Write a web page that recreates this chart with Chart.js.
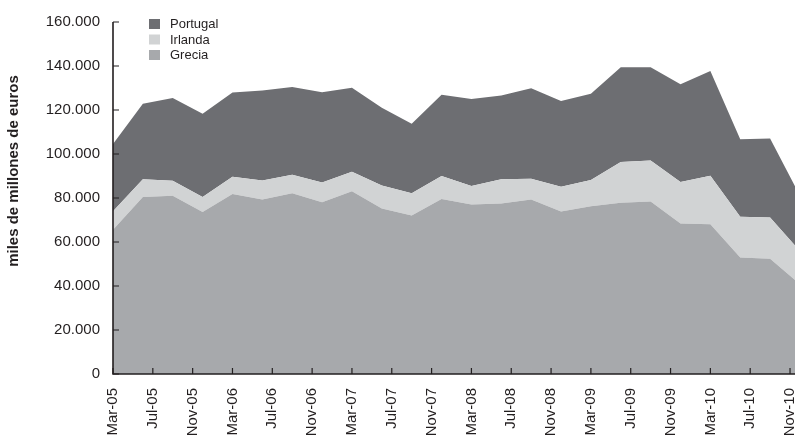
<!DOCTYPE html>
<html>
<head>
<meta charset="utf-8">
<script src="https://cdn.jsdelivr.net/npm/chart.js@4.4.0/dist/chart.umd.min.js"></script>
<style>
  html, body { margin: 0; padding: 0; background: #fff; }
  #wrap { width: 795px; height: 436px; }
</style>
</head>
<body>
<div id="wrap"><canvas id="myChart"></canvas></div>
<script>
// datos trimestrales (millones de euros)
const quarters = ['Mar-05','Jun-05','Sep-05','Dec-05','Mar-06','Jun-06','Sep-06','Dec-06',
  'Mar-07','Jun-07','Sep-07','Dec-07','Mar-08','Jun-08','Sep-08','Dec-08',
  'Mar-09','Jun-09','Sep-09','Dec-09','Mar-10','Jun-10','Sep-10','Dec-10'];

const grecia = [65600, 80400, 81000, 73600, 81800, 79300, 82200, 78100, 83100, 75200, 72100, 79600,
  77000, 77500, 79300, 73900, 76300, 77800, 78400, 68400, 68100, 52900, 52400, 40800];
const irlanda = [8400, 8100, 6800, 6800, 7900, 8700, 8400, 8900, 8800, 10500, 10100, 10400,
  8500, 11000, 9500, 11200, 11900, 18600, 18700, 18900, 22000, 18600, 18700, 15100];
const portugal = [30600, 34300, 37600, 37900, 38300, 40900, 39800, 41100, 38200, 35300, 31600, 36900,
  39500, 38100, 41100, 39000, 39200, 43000, 42300, 44400, 47600, 35200, 36000, 25100];

const tickLabels = ['Mar-05','Jul-05','Nov-05','Mar-06','Jul-06','Nov-06','Mar-07','Jul-07','Nov-07',
  'Mar-08','Jul-08','Nov-08','Mar-09','Jul-09','Nov-09','Mar-10','Jul-10','Nov-10'];

const yTitle = 'miles de millones de euros';
const textColor = '#231f20';

// meses desde Mar-05
const monthNames = ['Jan','Feb','Mar','Apr','May','Jun','Jul','Aug','Sep','Oct','Nov','Dec'];
function monthOffset(lbl) {
  const parts = lbl.split('-');
  return (parseInt(parts[1], 10) - 5) * 12 + monthNames.indexOf(parts[0]) - 2;
}
function toPoints(values) {
  return values.map((v, i) => ({ x: monthOffset(quarters[i]), y: v }));
}
function fmt(v) {
  return v.toString().replace(/\B(?=(\d{3})+(?!\d))/g, '.');
}

const data = {
  datasets: [
    { label: 'Grecia', data: toPoints(grecia), backgroundColor: '#a7a9ac', fill: 'origin' },
    { label: 'Irlanda', data: toPoints(irlanda), backgroundColor: '#d1d3d4', fill: '-1' },
    { label: 'Portugal', data: toPoints(portugal), backgroundColor: '#6d6e72', fill: '-1' }
  ]
};

// ejes, marcas interiores, leyenda y titulo
const extras = {
  id: 'extras',
  afterDatasetsDraw(chart) {
    const ctx = chart.ctx;
    const area = chart.chartArea;
    const xs = chart.scales.x, ys = chart.scales.y;
    ctx.save();
    ctx.strokeStyle = textColor;
    ctx.lineWidth = 1.2;
    ctx.beginPath();
    xs.ticks.forEach(t => {
      const px = xs.getPixelForValue(t.value);
      ctx.moveTo(px, area.bottom);
      ctx.lineTo(px, area.bottom - 6);
    });
    ys.ticks.forEach(t => {
      const py = ys.getPixelForValue(t.value);
      ctx.moveTo(area.left, py);
      ctx.lineTo(area.left + 6, py);
    });
    ctx.stroke();
    ctx.lineWidth = 1.6;
    ctx.beginPath();
    ctx.moveTo(area.left, area.top);
    ctx.lineTo(area.left, area.bottom);
    ctx.lineTo(area.right, area.bottom);
    ctx.stroke();

    // leyenda
    ctx.font = '13px "Liberation Sans", Arial, sans-serif';
    ctx.textBaseline = 'middle';
    ctx.textAlign = 'left';
    const items = chart.data.datasets.slice().reverse();
    items.forEach((ds, i) => {
      const cy = 24 + i * 15.5;
      ctx.fillStyle = ds.backgroundColor;
      ctx.fillRect(149, cy - 5, 11, 10);
      ctx.fillStyle = textColor;
      ctx.fillText(ds.label, 170, cy + 0.5);
    });

    // titulo eje y
    ctx.translate(14, 171);
    ctx.rotate(-Math.PI / 2);
    ctx.textAlign = 'center';
    ctx.font = 'bold 15px "Liberation Sans", Arial, sans-serif';
    ctx.fillText(yTitle, 0, 0);
    ctx.restore();
  }
};

const config = {
  type: 'line',
  data: data,
  options: {
    responsive: true,
    maintainAspectRatio: false,
    animation: false,
    layout: { padding: { top: 16, right: 0, bottom: 0, left: 0 } },
    elements: {
      point: { radius: 0 },
      line: { borderWidth: 0, tension: 0 }
    },
    plugins: {
      legend: { display: false },
      tooltip: { enabled: false }
    },
    scales: {
      x: {
        type: 'linear',
        min: 0,
        max: 68.5,
        grid: { display: false, drawTicks: false },
        border: { display: false },
        afterFit(scale) {
          scale.height = 62;
          scale.paddingLeft = 0;
          scale.paddingRight = 0;
        },
        ticks: {
          stepSize: 4,
          includeBounds: false,
          autoSkip: false,
          maxRotation: 90,
          minRotation: 90,
          padding: 14,
          color: textColor,
          font: { family: '"Liberation Sans", Arial, sans-serif', size: 15 },
          callback: v => tickLabels[v / 4]
        }
      },
      y: {
        stacked: true,
        min: 0,
        max: 160000,
        grid: { display: false, drawTicks: false },
        border: { display: false },
        afterFit(scale) { scale.width = 113; },
        ticks: {
          stepSize: 20000,
          padding: 13,
          color: textColor,
          font: { family: '"Liberation Sans", Arial, sans-serif', size: 15 },
          callback: v => fmt(v)
        }
      }
    }
  },
  plugins: [extras]
};

const context = document.getElementById('myChart').getContext('2d');
const chart = new Chart(context, config);
</script>
</body>
</html>
